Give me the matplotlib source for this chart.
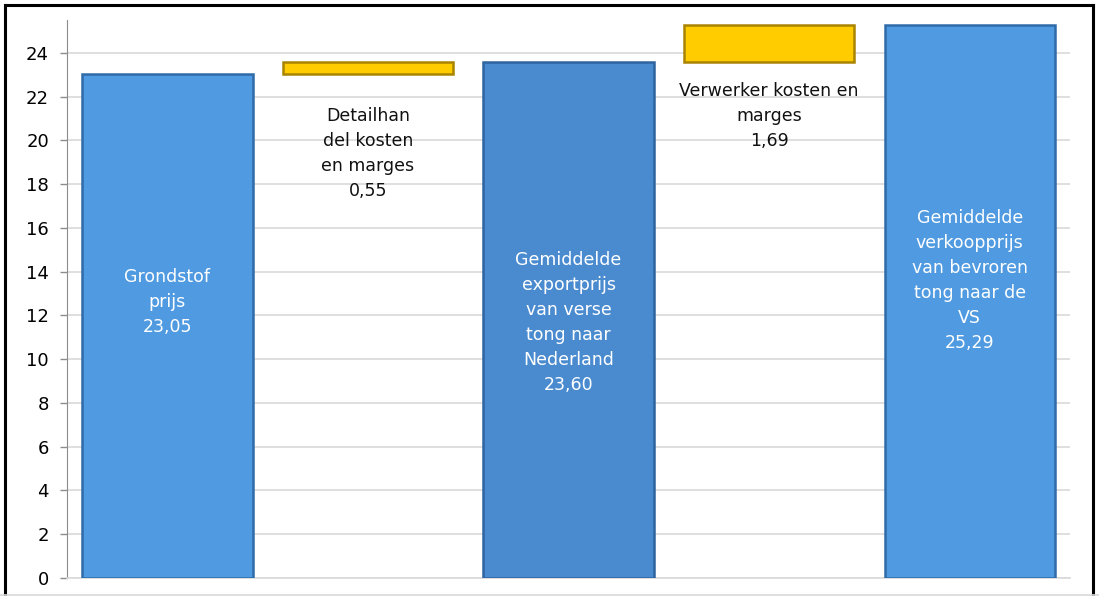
import matplotlib.pyplot as plt
from matplotlib.lines import Line2D

# waterfall steps, values in EUR/kg
steps = ['Grondstof\nprijs',
         'Detailhan\ndel kosten\nen marges',
         'Gemiddelde\nexportprijs\nvan verse\ntong naar\nNederland',
         'Verwerker kosten en\nmarges',
         'Gemiddelde\nverkoopprijs\nvan bevroren\ntong naar de\nVS']
values = [23.05, 0.55, 23.60, 1.69, 25.29]
is_total = [True, False, True, False, True]

# layout only: where the label blocks sit (y centre, data units)
label_y = [12.6, 19.4, 11.7, 21.1, 13.6]

plt.rcParams['font.family'] = ['DejaVu Sans']

fig = plt.figure(figsize=(10.99, 5.96), dpi=100)
ax = fig.add_axes([0.061, 0.0302, 0.9127, 0.936])

blue = ['#4F9AE0', '#4A8BD0', '#4F9AE0']
blue_edge = ['#2F6BA8', '#2F64A0', '#2F6BA8']
bi = 0
running = 0.0
for i, v in enumerate(values):
    if is_total[i]:
        bottom, height = 0, v
        fc, ec = blue[bi], blue_edge[bi]
        bi += 1
        running = v
    else:
        bottom, height = running, v
        fc, ec = '#FFCC00', '#A88400'
        running += v
    ax.bar(i, height, bottom=bottom, width=0.85, color=fc, edgecolor=ec,
           linewidth=1.8, zorder=3)
    num = f'{v:.2f}'.replace('.', ',')
    txtcol = 'white' if is_total[i] else '#111111'
    ax.text(i, label_y[i], steps[i] + '\n' + num, ha='center', va='center',
            color=txtcol, fontsize=12.5, linespacing=1.5, zorder=4)

ax.set_xlim(-0.5, len(values) - 0.5)
ax.set_ylim(0, 25.5)
ax.set_yticks(range(0, 25, 2))
ax.set_xticks([])
ax.tick_params(axis='y', labelsize=13, length=5, width=1, color='#8c8c8c',
               pad=8)
ax.yaxis.grid(True, color='#d9d9d9', linewidth=1.2, zorder=0)
ax.set_axisbelow(True)
for s in ['top', 'right']:
    ax.spines[s].set_visible(False)
ax.spines['left'].set_color('#8c8c8c')
ax.spines['bottom'].set_color('#d9d9d9')
ax.spines['bottom'].set_linewidth(1.2)

# frame around the chart (bottom edge falls outside the image)
fig.add_artist(Line2D([0.005, 0.005], [0.0, 0.992], transform=fig.transFigure,
                      color='black', linewidth=2.2))
fig.add_artist(Line2D([0.005, 0.9945], [0.992, 0.992], transform=fig.transFigure,
                      color='black', linewidth=2.2))
fig.add_artist(Line2D([0.9945, 0.9945], [0.0, 0.992], transform=fig.transFigure,
                      color='black', linewidth=2.2))
fig.add_artist(Line2D([0.0, 1.0], [0.002, 0.002], transform=fig.transFigure,
                      color='#d9d9d9', linewidth=1.2))

plt.savefig('out.png', dpi=100)
